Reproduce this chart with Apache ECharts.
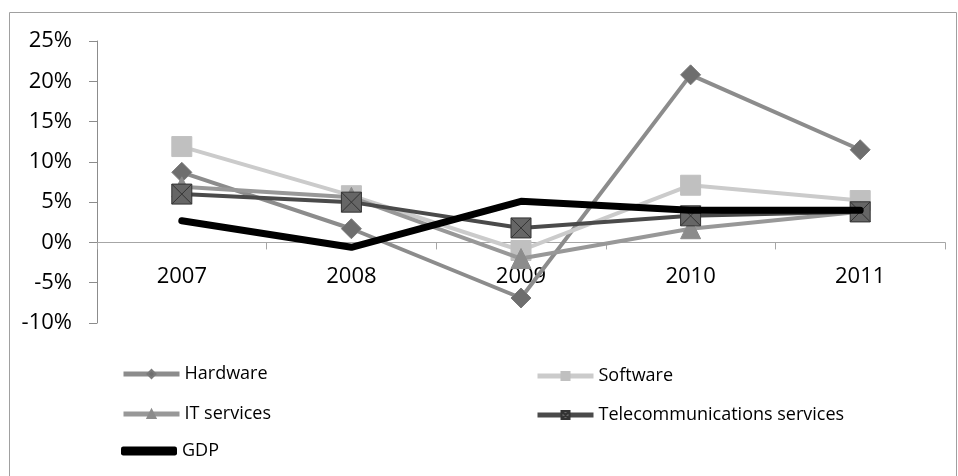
<!DOCTYPE html>
<html>
<head>
<meta charset="utf-8">
<script src="https://cdn.jsdelivr.net/npm/echarts@6/dist/echarts.min.js"></script>
<style>
html,body{margin:0;padding:0;background:#fff;}
#chart{width:958px;height:476px;}
</style>
</head>
<body>
<div id="chart"></div>
<script>
const years = ['2007', '2008', '2009', '2010', '2011'];
const hardware = [8.7, 1.7, -6.9, 20.8, 11.5];
const software = [11.9, 5.8, -1.0, 7.1, 5.2];
const itServices = [6.9, 5.6, -2.0, 1.7, 3.8];
const telecom = [6.0, 5.0, 1.8, 3.3, 3.8];
const gdp = [2.7, -0.6, 5.1, 4.0, 4.0];
const yTicks = [-10, -5, 0, 5, 10, 15, 20, 25];

const FONT = 'Open Sans';
const xSym = 'path://M0,0 L10,0 L10,10 L0,10 Z M0,0 L10,10 M10,0 L0,10';

const GRID = {left: 97, right: 13, top: 41, bottom: 153};
const gridH = 476 - GRID.top - GRID.bottom;
const yMin = yTicks[0], yMax = yTicks[yTicks.length - 1];
const zeroOffset = -((0 - yMin) / (yMax - yMin)) * gridH;

const chart = echarts.init(document.getElementById('chart'), null, {renderer: 'canvas'});

function legend(name, left, top, extra) {
  return Object.assign({
    data: [name], left: left, top: top, itemWidth: 56, itemHeight: 10, itemGap: 5,
    textStyle: {fontFamily: FONT, fontSize: 18, color: '#000'},
    lineStyle: {width: 5},
    selectedMode: false
  }, extra || {});
}

chart.setOption({
  animation: false,
  backgroundColor: '#fff',
  textStyle: {fontFamily: FONT},
  graphic: [{
    type: 'rect', shape: {x: 9.5, y: 12.5, width: 947, height: 470},
    style: {fill: 'none', stroke: '#a0a0a0', lineWidth: 1}, silent: true
  }],
  grid: GRID,
  legend: [
    legend('Hardware', 116, 360),
    legend('Software', 530, 362),
    legend('IT services', 116, 400),
    legend('Telecommunications services', 530, 401),
    legend('GDP', 116, 437, {data: [{name: 'GDP', icon: 'roundRect'}], itemHeight: 9})
  ],
  xAxis: {
    type: 'category', data: years, boundaryGap: true, offset: zeroOffset,
    axisLine: {onZero: false, lineStyle: {color: '#a6a6a6', width: 1}},
    axisTick: {show: true, length: 7, lineStyle: {color: '#a6a6a6'}},
    axisLabel: {color: '#000', fontSize: 22, fontFamily: FONT, margin: 23}
  },
  yAxis: {
    type: 'value', min: yMin, max: yMax, interval: 5,
    splitLine: {show: false},
    axisLine: {show: true, lineStyle: {color: '#8c8c8c', width: 1}},
    axisTick: {show: true, length: 8, lineStyle: {color: '#8c8c8c'}},
    axisLabel: {color: '#000', fontSize: 22, fontFamily: FONT, margin: 25, formatter: v => v + '%'}
  },
  series: [
    {
      name: 'Hardware', type: 'line', data: hardware, z: 2,
      symbol: 'diamond', symbolSize: 20, showAllSymbol: true,
      lineStyle: {color: '#8c8c8c', width: 4},
      itemStyle: {color: '#6e6e6e', borderColor: '#7a7a7a', borderWidth: 1}
    },
    {
      name: 'Software', type: 'line', data: software, z: 3,
      symbol: 'rect', symbolSize: 20,
      lineStyle: {color: '#cbcbcb', width: 4},
      itemStyle: {color: '#c0c0c0', borderColor: '#c0c0c0', borderWidth: 1}
    },
    {
      name: 'IT services', type: 'line', data: itServices, z: 4,
      symbol: 'triangle', symbolSize: 20,
      lineStyle: {color: '#989898', width: 4},
      itemStyle: {color: '#8c8c8c', borderColor: '#8c8c8c', borderWidth: 1}
    },
    {
      name: 'Telecommunications services', type: 'line', data: telecom, z: 5,
      symbol: xSym, symbolSize: 20,
      lineStyle: {color: '#4a4a4a', width: 4},
      itemStyle: {color: '#666666', borderColor: '#333333', borderWidth: 1}
    },
    {
      name: 'GDP', type: 'line', data: gdp, z: 6,
      symbol: 'none',
      lineStyle: {color: '#000000', width: 7, cap: 'round', join: 'round'},
      itemStyle: {color: '#000000'}
    }
  ]
});
</script>
</body>
</html>
